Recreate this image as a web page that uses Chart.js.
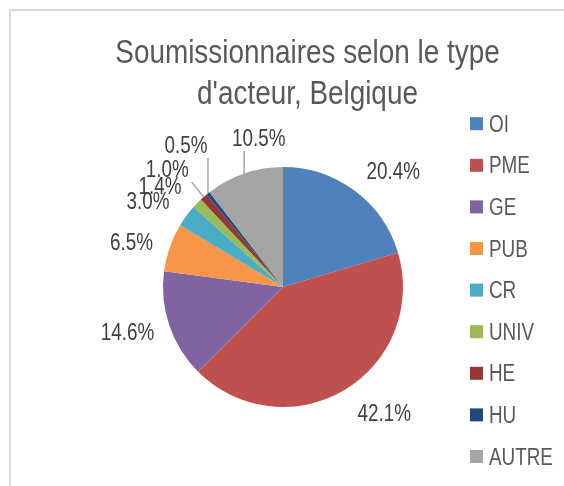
<!DOCTYPE html>
<html>
<head>
<meta charset="utf-8">
<script src="https://cdn.jsdelivr.net/npm/chart.js@4.4.1/dist/chart.umd.min.js"></script>
<style>
  html, body { margin: 0; padding: 0; background: #fff; }
</style>
</head>
<body>
<canvas id="pie-chart" width="564" height="486"></canvas>
<script>
const titleLines = ["Soumissionnaires selon le type", "d'acteur, Belgique"];
const categories = ["OI", "PME", "GE", "PUB", "CR", "UNIV", "HE", "HU", "AUTRE"];
const shares = [20.4, 42.1, 14.6, 6.5, 3.0, 1.4, 1.0, 0.5, 10.5];
const sliceColors = ["#4F81BD", "#C0504D", "#8064A2", "#F79646", "#4BACC6", "#9BBB59", "#953735", "#1F497D", "#A5A5A5"];

const fontFamily = "'Liberation Sans', Arial, sans-serif";
const squeeze = 0.82; // fake the Arial Narrow look

// nudges for the data labels: [extra angle in degrees, distance from centre]
const labelPlace = [[6.8, 160], [-7.9, 162], [2.5, 162], [-2.8, 158], [-3.9, 160], [-4.9, 159], [-3.1, 165], [4.4, 172], [9.7, 151]];
const withLeader = [false, false, false, false, false, false, true, true, true];

function narrowText(ctx, text, x, y) {
    ctx.save()
    ctx.translate(x, y)
    ctx.scale(squeeze, 1)
    ctx.fillText(text, 0, 0)
    ctx.restore()
}

const decorations = {
    id: "decorations",
    beforeDraw(chart) {
        let ctx = chart.ctx
        ctx.save()
        ctx.strokeStyle = "#d9d9d9"
        ctx.lineWidth = 2
        ctx.strokeRect(10, 10, 600, 600)
        ctx.restore()
    },
    afterDraw(chart) {
        let ctx = chart.ctx
        ctx.save()

        // title
        ctx.fillStyle = "#595959"
        ctx.font = "34px " + fontFamily
        ctx.textAlign = "center"
        ctx.textBaseline = "alphabetic"
        titleLines.forEach((line, i) => narrowText(ctx, line, 307.5, 63 + i * 40.5))

        // legend
        ctx.textAlign = "left"
        ctx.font = "23px " + fontFamily
        categories.forEach((name, i) => {
            let base = 131.7 + i * 41.6
            ctx.fillStyle = sliceColors[i]
            ctx.fillRect(470, base - 14.5, 13, 13)
            ctx.fillStyle = "#595959"
            narrowText(ctx, name, 489, base)
        })

        // data labels
        let meta = chart.getDatasetMeta(0)
        ctx.textAlign = "center"
        meta.data.forEach((arc, i) => {
            let mid = (arc.startAngle + arc.endAngle) / 2
            let ang = mid + labelPlace[i][0] * Math.PI / 180
            let x = arc.x + labelPlace[i][1] * Math.cos(ang)
            let y = arc.y + labelPlace[i][1] * Math.sin(ang)
            let text = shares[i].toFixed(1) + "%"
            if (withLeader[i]) {
                let w = ctx.measureText(text).width * squeeze / 2 + 3
                let ex = arc.x + arc.outerRadius * Math.cos(mid)
                let ey = arc.y + arc.outerRadius * Math.sin(mid)
                let lx = Math.min(Math.max(ex, x - w), x + w)
                let ly = Math.min(Math.max(ey, y - 13), y + 13)
                ctx.strokeStyle = "#a6a6a6"
                ctx.lineWidth = 1.5
                ctx.beginPath()
                ctx.moveTo(ex, ey)
                ctx.lineTo(lx, ly)
                ctx.stroke()
            }
            ctx.fillStyle = "#404040"
            narrowText(ctx, text, x, y + 8)
        })
        ctx.restore()
    }
};

(function () {
    'use strict'

    let canvas = document.getElementById("pie-chart");
    let config = {
        type: "pie",
        data: {
            labels: categories,
            datasets: [
                {
                    data: shares,
                    backgroundColor: sliceColors,
                    borderWidth: 0,
                    hoverOffset: 0
                }
            ]
        },
        options: {
            responsive: false,
            animation: false,
            layout: {
                padding: { left: 163, right: 161, top: 167, bottom: 79 }
            },
            plugins: {
                legend: { display: false },
                title: { display: false },
                tooltip: { enabled: false }
            }
        },
        plugins: [decorations]
    };

    let pie = new Chart(canvas, config);
})()
</script>
</body>
</html>
